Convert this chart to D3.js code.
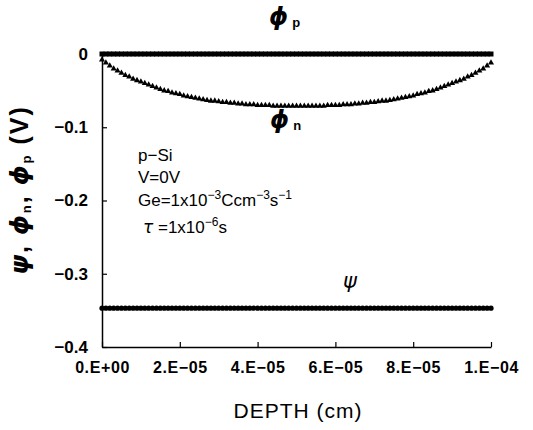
<!DOCTYPE html>
<html>
<head>
<meta charset="utf-8">
<script src="https://cdn.jsdelivr.net/npm/d3@7"></script>
<style>
  body { margin: 0; background: #fff; }
  svg { display: block; font-family: "Liberation Sans", Arial, sans-serif; }
  .greek { font-family: "DejaVu Sans", sans-serif; }
</style>
</head>
<body>
<script>
const width = 533;
const height = 430;
const margin = { top: 54, right: 42, bottom: 83, left: 102 };

// depth in units of 1e-6 cm
const depthE6 = [
  0, 1, 2, 3, 4, 5, 6, 7, 8, 9, 10, 11, 12, 13, 14, 15, 16, 17, 18, 19, 20,
  21, 22, 23, 24, 25, 26, 27, 28, 29, 30, 31, 32, 33, 34, 35, 36, 37, 38, 39, 40,
  41, 42, 43, 44, 45, 46, 47, 48, 49, 50, 51, 52, 53, 54, 55, 56, 57, 58, 59, 60,
  61, 62, 63, 64, 65, 66, 67, 68, 69, 70, 71, 72, 73, 74, 75, 76, 77, 78, 79, 80,
  81, 82, 83, 84, 85, 86, 87, 88, 89, 90, 91, 92, 93, 94, 95, 96, 97, 98, 99, 100
];

const phiN = [
  -0.008, -0.012, -0.016, -0.020, -0.023, -0.026, -0.029, -0.031, -0.034, -0.036, -0.038,
  -0.040, -0.042, -0.044, -0.046, -0.048, -0.050, -0.051, -0.053, -0.054, -0.055,
  -0.057, -0.058, -0.059, -0.060, -0.061, -0.062, -0.063, -0.064, -0.064, -0.065,
  -0.066, -0.066, -0.067, -0.067, -0.068, -0.068, -0.069, -0.069, -0.069, -0.070,
  -0.070, -0.070, -0.070, -0.071, -0.071, -0.071, -0.071, -0.071, -0.071, -0.071,
  -0.071, -0.071, -0.071, -0.071, -0.071, -0.071, -0.071, -0.070, -0.070, -0.070,
  -0.070, -0.069, -0.069, -0.069, -0.068, -0.068, -0.067, -0.067, -0.066, -0.066,
  -0.065, -0.064, -0.064, -0.063, -0.062, -0.061, -0.060, -0.059, -0.058, -0.057,
  -0.055, -0.054, -0.053, -0.051, -0.050, -0.048, -0.046, -0.044, -0.042, -0.040,
  -0.038, -0.036, -0.034, -0.031, -0.029, -0.026, -0.023, -0.020, -0.016, -0.012, -0.008
];

const phiP = [
  0, 0, 0, 0, 0, 0, 0, 0, 0, 0, 0, 0, 0, 0, 0, 0, 0, 0, 0, 0, 0,
  0, 0, 0, 0, 0, 0, 0, 0, 0, 0, 0, 0, 0, 0, 0, 0, 0, 0, 0, 0,
  0, 0, 0, 0, 0, 0, 0, 0, 0, 0, 0, 0, 0, 0, 0, 0, 0, 0, 0, 0,
  0, 0, 0, 0, 0, 0, 0, 0, 0, 0, 0, 0, 0, 0, 0, 0, 0, 0, 0, 0,
  0, 0, 0, 0, 0, 0, 0, 0, 0, 0, 0, 0, 0, 0, 0, 0, 0, 0, 0, 0
];

const psi = [
  -0.347, -0.347, -0.347, -0.347, -0.347, -0.347, -0.347, -0.347, -0.347, -0.347, -0.347,
  -0.347, -0.347, -0.347, -0.347, -0.347, -0.347, -0.347, -0.347, -0.347, -0.347,
  -0.347, -0.347, -0.347, -0.347, -0.347, -0.347, -0.347, -0.347, -0.347, -0.347,
  -0.347, -0.347, -0.347, -0.347, -0.347, -0.347, -0.347, -0.347, -0.347, -0.347,
  -0.347, -0.347, -0.347, -0.347, -0.347, -0.347, -0.347, -0.347, -0.347, -0.347,
  -0.347, -0.347, -0.347, -0.347, -0.347, -0.347, -0.347, -0.347, -0.347, -0.347,
  -0.347, -0.347, -0.347, -0.347, -0.347, -0.347, -0.347, -0.347, -0.347, -0.347,
  -0.347, -0.347, -0.347, -0.347, -0.347, -0.347, -0.347, -0.347, -0.347, -0.347,
  -0.347, -0.347, -0.347, -0.347, -0.347, -0.347, -0.347, -0.347, -0.347, -0.347,
  -0.347, -0.347, -0.347, -0.347, -0.347, -0.347, -0.347, -0.347, -0.347, -0.347
];

const xTicks = [0, 2e-5, 4e-5, 6e-5, 8e-5, 1e-4];
const xTickLabels = ['0.E+00', '2.E-05', '4.E-05', '6.E-05', '8.E-05', '1.E-04'];
const yTicks = [0, -0.1, -0.2, -0.3, -0.4];
const yTickLabels = ['0', '-0.1', '-0.2', '-0.3', '-0.4'];

const depth = depthE6.map(d => d * 1e-6);

const x = d3.scaleLinear()
  .domain([0, 1e-4])
  .range([margin.left, width - margin.right]);

const y = d3.scaleLinear()
  .domain([-0.4, 0])
  .range([height - margin.bottom, margin.top]);

const svg = d3.select('body').append('svg')
  .attr('width', width)
  .attr('height', height)
  .attr('viewBox', [0, 0, width, height]);

// axes
const xAxis = d3.axisBottom(x)
  .tickValues(xTicks)
  .tickSizeInner(-5)
  .tickSizeOuter(0)
  .tickFormat((d, i) => xTickLabels[i].replace('-', '\u2212'));

const yAxis = d3.axisLeft(y)
  .tickValues(yTicks)
  .tickSizeInner(-5)
  .tickSizeOuter(0)
  .tickFormat((d, i) => yTickLabels[i].replace('-', '\u2212'));

const xAxisG = svg.append('g')
  .attr('transform', `translate(0,${y(-0.4)})`)
  .call(xAxis);

xAxisG.select('.domain').attr('stroke', '#000').attr('stroke-width', 1.5);
xAxisG.selectAll('.tick line').attr('stroke', '#000').attr('stroke-width', 1.2);
xAxisG.selectAll('.tick text')
  .attr('y', 15)
  .attr('dy', '0.71em')
  .attr('font-family', '"Liberation Sans", Arial, sans-serif')
  .attr('font-size', 16)
  .attr('font-weight', 'bold')
  .attr('letter-spacing', 0.6)
  .attr('fill', '#000');

const yAxisG = svg.append('g')
  .attr('transform', `translate(${x(0)},0)`)
  .call(yAxis);

yAxisG.select('.domain').attr('stroke', '#000').attr('stroke-width', 1.5);
yAxisG.selectAll('.tick line').attr('stroke', '#000').attr('stroke-width', 1.2);
yAxisG.selectAll('.tick text')
  .attr('x', -14)
  .attr('font-family', '"Liberation Sans", Arial, sans-serif')
  .attr('font-size', 17)
  .attr('font-weight', 'bold')
  .attr('fill', '#000');

// series
const rows = depth.map((d, i) => ({ depth: d, phiN: phiN[i], phiP: phiP[i], psi: psi[i] }));

svg.append('g')
  .selectAll('rect')
  .data(rows)
  .join('rect')
  .attr('x', d => x(d.depth) - 2.5)
  .attr('y', d => y(d.phiP) - 2.5)
  .attr('width', 5)
  .attr('height', 5)
  .attr('fill', '#000');

svg.append('g')
  .selectAll('circle')
  .data(rows)
  .join('circle')
  .attr('cx', d => x(d.depth))
  .attr('cy', d => y(d.psi))
  .attr('r', 2.6)
  .attr('fill', '#000');

const tri = d3.symbol().type(d3.symbolTriangle).size(16);
svg.append('g')
  .selectAll('path')
  .data(rows)
  .join('path')
  .attr('transform', d => `translate(${x(d.depth)},${y(d.phiN)})`)
  .attr('d', tri)
  .attr('fill', '#000');

// series labels
function phiLabel(cx, cy, sub) {
  const t = svg.append('text')
    .attr('x', cx)
    .attr('y', cy)
    .attr('fill', '#000');
  t.append('tspan')
    .attr('class', 'greek')
    .attr('font-size', 24)
    .attr('font-weight', 'bold')
    .attr('font-style', 'italic')
    .text('\u03d5');
  t.append('tspan')
    .attr('font-size', 13)
    .attr('font-weight', 'bold')
    .attr('dx', 4)
    .attr('dy', 2)
    .text(sub);
}
phiLabel(269, 25, 'p');
phiLabel(270, 128, 'n');

svg.append('text')
  .attr('class', 'greek')
  .attr('x', 343)
  .attr('y', 288)
  .attr('font-size', 21)
  .attr('font-style', 'italic')
  .attr('fill', '#000')
  .text('\u03c8');

// annotation
const ann = svg.append('g')
  .attr('font-size', 17)
  .attr('fill', '#000');

ann.append('text').attr('x', 138).attr('y', 161).text('p\u2212Si');
ann.append('text').attr('x', 138).attr('y', 183).text('V=0V');

const ge = ann.append('text').attr('x', 138).attr('y', 206);
ge.append('tspan').text('Ge=1x10');
ge.append('tspan').attr('font-size', 12).attr('dy', -7).text('\u22123');
ge.append('tspan').attr('dy', 7).text('Ccm');
ge.append('tspan').attr('font-size', 12).attr('dy', -7).text('\u22123');
ge.append('tspan').attr('dy', 7).text('s');
ge.append('tspan').attr('font-size', 12).attr('dy', -7).text('\u22121');

const tau = ann.append('text').attr('x', 143).attr('y', 233);
tau.append('tspan').attr('class', 'greek').attr('font-style', 'italic').text('\u03c4');
tau.append('tspan').text(' =1x10');
tau.append('tspan').attr('font-size', 12).attr('dy', -7).text('\u22126');
tau.append('tspan').attr('dy', 7).text('s');

// axis titles
svg.append('text')
  .attr('x', 298)
  .attr('y', 418)
  .attr('text-anchor', 'middle')
  .attr('font-size', 21)
  .attr('letter-spacing', 1)
  .attr('fill', '#000')
  .text('DEPTH (cm)');

const yl = svg.append('text')
  .attr('transform', 'translate(28,190) rotate(-90)')
  .attr('text-anchor', 'middle')
  .attr('font-size', 25)
  .attr('font-weight', 'bold')
  .attr('letter-spacing', 2)
  .attr('fill', '#000');
yl.append('tspan').attr('class', 'greek').attr('font-style', 'italic').text('\u03c8');
yl.append('tspan').text(', ');
yl.append('tspan').attr('class', 'greek').attr('font-style', 'italic').text('\u03d5');
yl.append('tspan').attr('font-size', 13).attr('dy', 3).text('n');
yl.append('tspan').attr('dy', -3).text(', ');
yl.append('tspan').attr('class', 'greek').attr('font-style', 'italic').text('\u03d5');
yl.append('tspan').attr('font-size', 13).attr('dy', 3).text('p');
yl.append('tspan').attr('dy', -3).text(' (V)');
</script>
</body>
</html>
